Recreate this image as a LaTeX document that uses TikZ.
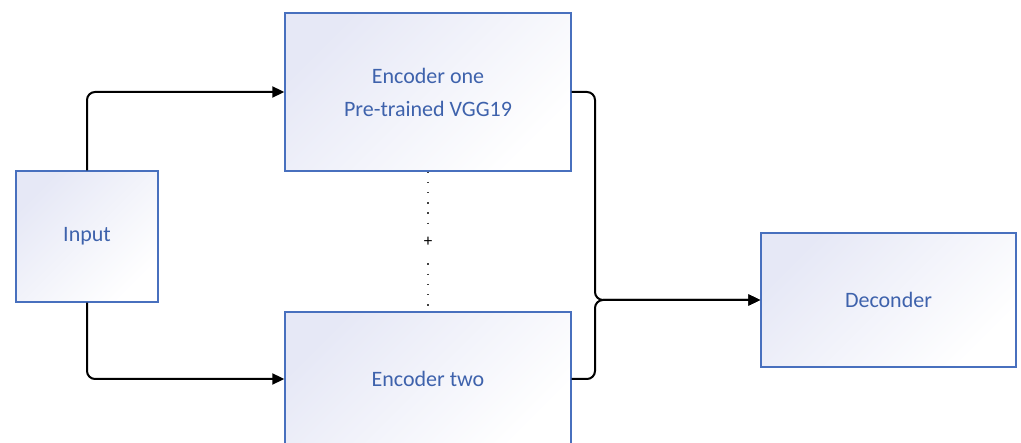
\documentclass[tikz,border=0pt]{standalone}
\usepackage{fontspec}
\setmainfont{Carlito}
\usetikzlibrary{arrows.meta}
\definecolor{boxline}{RGB}{72,112,190}
\definecolor{boxtext}{RGB}{62,98,172}
\definecolor{boxfill}{RGB}{230,232,246}
\tikzset{
  block/.style={draw=boxline, line width=1.4pt, rectangle,
    top color=boxfill, bottom color=white, shading angle=45,
    text=boxtext, align=center, inner sep=0pt,
    font=\fontsize{22}{33}\selectfont},
  conn/.style={draw=black, line width=2pt, rounded corners=8pt},
  tip/.style={-{Triangle[length=12pt,width=11pt]}},
  dots/.style={draw=black!75, line width=1.6pt, dash pattern=on 1.4pt off 8.8pt}
}
\begin{document}
\begin{tikzpicture}[x=1pt,y=-1pt]
  \useasboundingbox (0,0) rectangle (1021,443);
  \clip (0,0) rectangle (1021,443);

  % blocks
  \node[block, minimum width=142pt, minimum height=131pt] (in)  at (87,236.5) {\raisebox{-2pt}{Input}};
  \node[block, minimum width=286pt, minimum height=158pt] (e1)  at (428,92) {Encoder one\\Pre-trained VGG19};
  \node[block, minimum width=286pt, minimum height=134pt] (e2)  at (428,379) {Encoder two};
  \node[block, minimum width=255pt, minimum height=134pt] (dec) at (888.5,300) {Deconder};

  % junction where both encoder outputs merge
  \coordinate (j) at (595,300);

  % input to encoders
  \draw[conn, tip] (in.north) |- (e1.west);
  \draw[conn, tip] (in.south) |- (e2.west);

  % encoders to decoder
  \draw[conn, tip] (e1.east) -| (j) -- (dec.west);
  \draw[conn, tip] (e2.east) -| (j) -- (dec.west);

  % dotted link between the two encoders
  \draw[dots] (e1.south) -- (e2.north)
    node[midway, fill=white, inner sep=0pt, minimum width=14pt, minimum height=34pt,
         text=black, font=\fontsize{17}{17}\selectfont] (plus) {+};
\end{tikzpicture}
\end{document}
